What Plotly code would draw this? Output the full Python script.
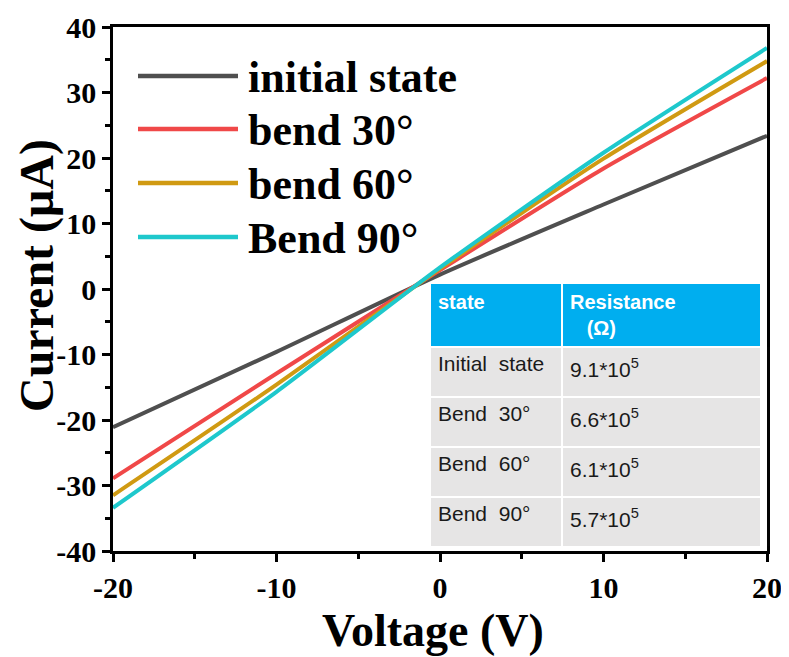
import plotly.graph_objects as go

voltage = [-20, -10, 0, 10, 20]
initial_state = [-21.1, -9.6, 2.2, 12.9, 23.4]
bend_30 = [-28.9, -12.9, 2.9, 18.4, 32.2]
bend_60 = [-31.5, -14.6, 3.1, 19.9, 34.8]
bend_90 = [-33.4, -15.7, 3.3, 20.8, 36.8]

series_names = ["initial state", "bend 30°", "bend 60°", "Bend 90°"]
series_values = [initial_state, bend_30, bend_60, bend_90]
colors = ["#4f4f4f", "#f04848", "#d09a12", "#1ec8cc"]

x_ticks = [-20, -10, 0, 10, 20]
y_ticks = [-40, -30, -20, -10, 0, 10, 20, 30, 40]

table_header = ["<b>state</b>", "<b>Resistance</b><br><b>   (Ω)</b>"]
table_states = ["Initial  state", "Bend  30°", "Bend  60°", "Bend  90°"]
table_resistance = ["9.1*10<sup>5</sup>", "6.6*10<sup>5</sup>", "6.1*10<sup>5</sup>", "5.7*10<sup>5</sup>"]

SERIF = "Liberation Serif, Times New Roman, serif"
SANS = "Liberation Sans, Arial, sans-serif"

# page body has an 8px default margin: work in screen pixels and subtract it
OFF = 8
W, H = 789 - OFF, 657 - OFF
SL, SR, ST, SB = 113, 767, 27, 551  # plot area in screen pixels
L, T = SL - OFF, ST - OFF
R, B = W - (SR - OFF), H - (SB - OFF)
PW, PH = SR - SL, SB - ST

def px_x(p):
    return (p - SL) / PW

def px_y(p):
    return (SB - p) / PH

fig = go.Figure()
for name, vals, col in zip(series_names, series_values, colors):
    fig.add_trace(go.Scatter(x=voltage, y=vals, mode="lines", name=name,
                             line=dict(color=col, width=4, shape="spline", smoothing=0.6),
                             showlegend=False))

fig.add_trace(go.Table(
    domain=dict(x=[px_x(430), px_x(761)], y=[px_y(546), px_y(283)]),
    columnwidth=[132, 199],
    header=dict(values=table_header, fill_color="#00aeef", align="left",
                line=dict(color="white", width=2), height=61,
                font=dict(family=SANS, size=20, color="white")),
    cells=dict(values=[table_states, table_resistance], fill_color="#e6e5e5", align="left",
               line=dict(color="white", width=2), height=50,
               font=dict(family=SANS, size=21, color="#1a1a1a")),
))

# custom legend (long line samples)
leg_y = [76, 129, 183, 237]
for name, col, yy in zip(series_names, colors, leg_y):
    fig.add_shape(type="line", xref="paper", yref="paper", x0=px_x(138), x1=px_x(238),
                  y0=px_y(yy), y1=px_y(yy), line=dict(color=col, width=4.5))
    fig.add_annotation(xref="paper", yref="paper", x=px_x(246), y=px_y(yy + 1),
                       text="<b>%s</b>" % name, showarrow=False, xanchor="left", yanchor="middle",
                       font=dict(family=SERIF, size=44, color="black"))

# axis titles
fig.add_annotation(xref="paper", yref="paper", x=px_x(433), y=px_y(630), text="<b>Voltage (V)</b>",
                   showarrow=False, xanchor="center", yanchor="middle",
                   font=dict(family=SERIF, size=46, color="black"))
fig.add_annotation(xref="paper", yref="paper", x=px_x(37), y=px_y(276), text="<b>Current (μA)</b>",
                   showarrow=False, xanchor="center", yanchor="middle", textangle=-90,
                   font=dict(family=SERIF, size=48, color="black"))

axis_common = dict(showgrid=False, zeroline=False, showline=True, linecolor="black", linewidth=2.5,
                   mirror=True, ticks="outside", ticklen=8, tickwidth=2.5, tickcolor="black",
                   automargin=False, tickfont=dict(family=SERIF, size=30, color="black"))

fig.update_xaxes(range=[-20, 20], tickvals=x_ticks, ticktext=["<b>%d</b>" % v for v in x_ticks],
                 minor=dict(dtick=5, ticks="outside", ticklen=5, tickwidth=2.5, tickcolor="black"),
                 **axis_common)
fig.update_yaxes(range=[-40, 40], tickvals=y_ticks, ticktext=["<b>%d</b>" % v for v in y_ticks],
                 minor=dict(dtick=5, ticks="outside", ticklen=5, tickwidth=2.5, tickcolor="black"),
                 **axis_common)

fig.update_layout(width=W, height=H, margin=dict(l=L, r=R, t=T, b=B, autoexpand=False),
                  plot_bgcolor="white", paper_bgcolor="white", showlegend=False)

fig.write_html("out.html")
